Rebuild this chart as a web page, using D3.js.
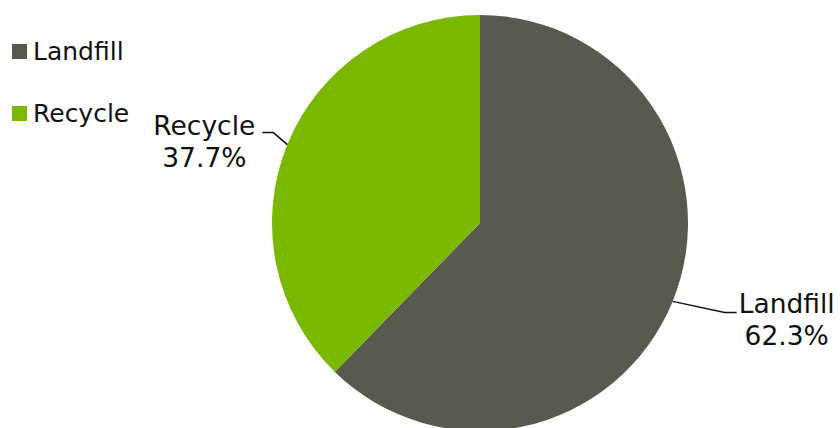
<!DOCTYPE html>
<html><head><meta charset="utf-8">
<script src="https://cdn.jsdelivr.net/npm/d3@7"></script>
<style>body{margin:0;background:#fff}svg{display:block}text{font-family:"DejaVu Sans",sans-serif;fill:#111}</style>
</head><body><svg id="c" width="840" height="428"></svg>
<script>
const categories = ["Landfill", "Recycle"];
const values = [62.3, 37.7];
const colors = ["#595a4f", "#7ab800"];

const svg = d3.select("#c");
const cx = 480, cy = 223, r = 208;
const data = categories.map((c, i) => ({name: c, value: values[i], color: colors[i]}));
const pie = d3.pie().value(d => d.value).sort(null);
const arcs = pie(data);
const arc = d3.arc().innerRadius(0).outerRadius(r);
const edge = d3.arc().innerRadius(r).outerRadius(r);
const g = svg.append("g").attr("transform", `translate(${cx},${cy})`);
g.selectAll("path.s").data(arcs).join("path").attr("class","s")
  .attr("d", arc).attr("fill", d => d.data.color);

// label layout (relative to arc edge point)
const layout = {
  Landfill: {elbow: [52, 11], end: [64, 11], tx: 114, ty: 12, anchor: "middle"},
  Recycle: {elbow: [-14, -12], end: [-25, -12], tx: -83, ty: -10, anchor: "middle"}
};
arcs.forEach(a => {
  const p = edge.centroid(a);
  const L = layout[a.data.name];
  g.append("polyline")
    .attr("points", [p, [p[0]+L.elbow[0], p[1]+L.elbow[1]], [p[0]+L.end[0], p[1]+L.end[1]]].map(q => q.join(",")).join(" "))
    .attr("fill", "none").attr("stroke", "#111").attr("stroke-width", 1.5);
  const t = g.append("text").attr("text-anchor", L.anchor).attr("font-size", 26.5)
    .attr("x", p[0]+L.tx).attr("y", p[1]+L.ty);
  t.append("tspan").attr("x", p[0]+L.tx).text(a.data.name);
  t.append("tspan").attr("x", p[0]+L.tx).attr("dy", 32).text(d3.format(".1f")(a.data.value) + "%");
});

// legend
const leg = svg.append("g").attr("transform", "translate(12,44)");
const li = leg.selectAll("g").data(data).join("g").attr("transform", (d, i) => `translate(0,${i*62})`);
li.append("rect").attr("width", 15).attr("height", 15).attr("fill", d => d.color);
li.append("text").attr("x", 21).attr("y", 16).attr("font-size", 25).text(d => d.name);
</script></body></html>
